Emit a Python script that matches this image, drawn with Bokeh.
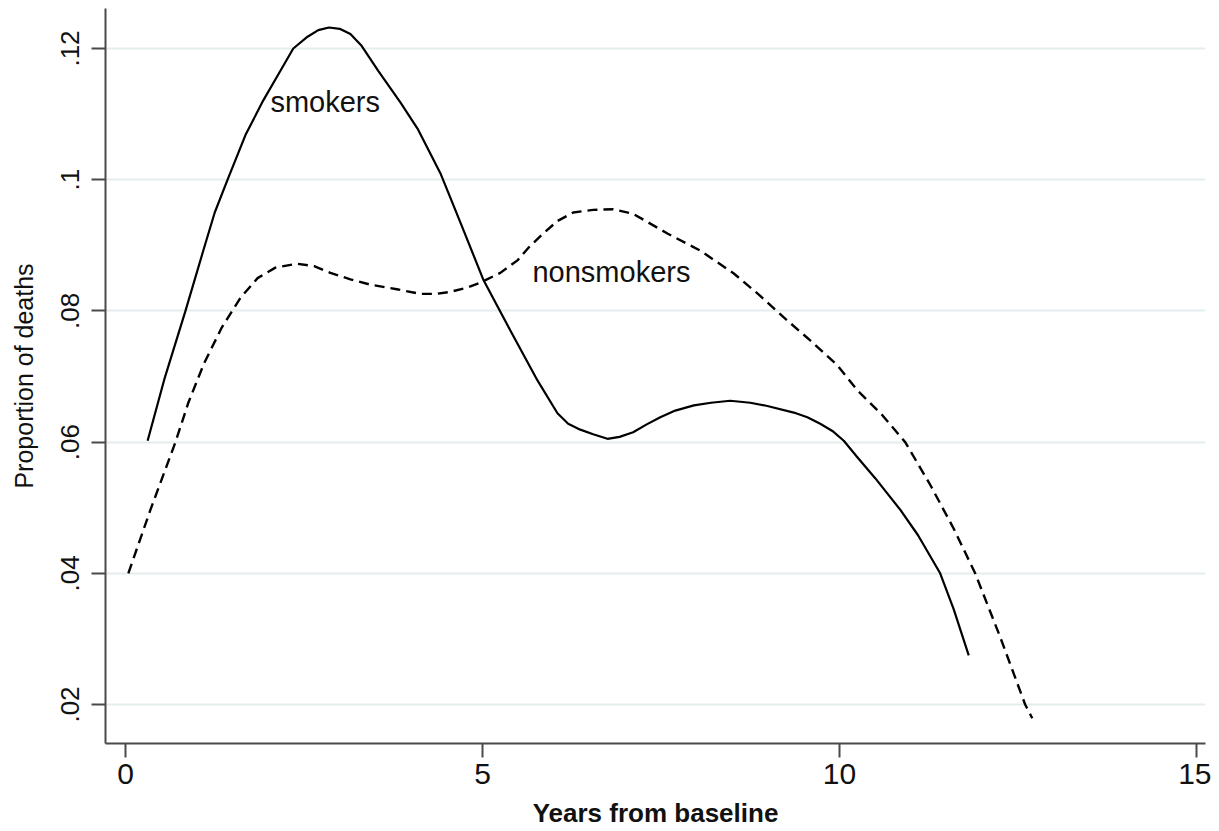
from bokeh.plotting import figure
from bokeh.models import FixedTicker, Range1d, Label
from bokeh.embed import file_html
from bokeh.resources import INLINE

# ---- data ----
smokers_x = [0.31, 0.55, 0.84, 1.09, 1.25, 1.43, 1.68, 1.93, 2.17, 2.35, 2.55, 2.70, 2.85,
             3.00, 3.15, 3.30, 3.54, 3.85, 4.09, 4.41, 4.69, 5.01, 5.39, 5.77, 6.05, 6.20,
             6.37, 6.55, 6.75, 6.92, 7.11, 7.30, 7.49, 7.70, 7.96, 8.20, 8.47, 8.75, 8.99,
             9.36, 9.55, 9.73, 9.90, 10.06, 10.25, 10.50, 10.85, 11.10, 11.41, 11.60, 11.81]
smokers_y = [0.0602, 0.0698, 0.0800, 0.0892, 0.0950, 0.1000, 0.1068, 0.1121, 0.1166, 0.1200,
             0.1218, 0.1228, 0.1232, 0.1230, 0.1222, 0.1205, 0.1166, 0.1118, 0.1078, 0.1010,
             0.0935, 0.0848, 0.0770, 0.0694, 0.0644, 0.0628, 0.0619, 0.0612, 0.0605, 0.0608,
             0.0615, 0.0627, 0.0638, 0.0648, 0.0656, 0.0660, 0.0663, 0.0660, 0.0655, 0.0645,
             0.0638, 0.0628, 0.0617, 0.0602, 0.0577, 0.0545, 0.0497, 0.0458, 0.0400, 0.0345,
             0.0275]

nonsmokers_x = [0.04, 0.35, 0.70, 0.88, 1.10, 1.35, 1.61, 1.85, 2.10, 2.40, 2.65, 2.87, 3.15,
                3.43, 3.80, 4.13, 4.35, 4.55, 4.80, 4.97, 5.25, 5.49, 5.65, 5.85, 6.05, 6.27,
                6.55, 6.83, 7.11, 7.35, 7.59, 8.05, 8.52, 8.89, 9.22, 9.59, 9.97, 10.25, 10.60,
                10.92, 11.27, 11.60, 11.90, 12.25, 12.60, 12.70]
nonsmokers_y = [0.0400, 0.0497, 0.0600, 0.0660, 0.0720, 0.0775, 0.0820, 0.0850, 0.0866, 0.0872,
                0.0868, 0.0858, 0.0848, 0.0840, 0.0833, 0.0826, 0.0826, 0.0829, 0.0836, 0.0843,
                0.0858, 0.0877, 0.0897, 0.0918, 0.0937, 0.0950, 0.0954, 0.0955, 0.0948, 0.0933,
                0.0918, 0.0892, 0.0857, 0.0823, 0.0790, 0.0755, 0.0717, 0.0679, 0.0641, 0.0600,
                0.0535, 0.0468, 0.0400, 0.0303, 0.0200, 0.0179]

x_ticks = [0, 5, 10, 15]
y_ticks = [0.02, 0.04, 0.06, 0.08, 0.10, 0.12]
y_tick_labels = [".02", ".04", ".06", ".08", ".1", ".12"]

series_labels = ["smokers", "nonsmokers"]
label_pos_x = [2.03, 5.70]
label_pos_y = [0.1119, 0.0860]

FONT = "Liberation Sans"

p = figure(width=1211, height=831, output_backend="svg", toolbar_location=None,
           x_range=Range1d(-0.28, 15.126), y_range=Range1d(0.014055, 0.126098),
           min_border_left=105, min_border_right=6, min_border_top=8, min_border_bottom=88)
p.outline_line_color = None
p.background_fill_color = "white"
p.border_fill_color = "white"

# grid
p.xgrid.grid_line_color = None
p.ygrid.grid_line_color = "#e4eded"
p.ygrid.grid_line_width = 2
p.ygrid.ticker = FixedTicker(ticks=y_ticks)

# x axis
xa = p.xaxis[0]
xa.ticker = FixedTicker(ticks=x_ticks)
xa.axis_label = "Years from baseline"
xa.axis_label_text_font = FONT
xa.axis_label_text_font_style = "bold"
xa.axis_label_text_font_size = "26px"
xa.axis_label_text_color = "#111111"
xa.axis_label_standoff = 11
xa.major_label_text_font = FONT
xa.major_label_text_font_size = "30px"
xa.major_label_text_color = "#111111"
xa.major_label_standoff = 6
xa.major_tick_out = 14
xa.major_tick_in = 0
xa.minor_tick_out = 0
xa.minor_tick_in = 0
xa.axis_line_color = "#4a4a4a"
xa.axis_line_width = 2
xa.major_tick_line_color = "#4a4a4a"
xa.major_tick_line_width = 2

# y axis
ya = p.yaxis[0]
ya.ticker = FixedTicker(ticks=y_ticks)
ya.major_label_overrides = {t: s for t, s in zip(y_ticks, y_tick_labels)}
ya.major_label_orientation = "vertical"
ya.axis_label = "Proportion of deaths"
ya.axis_label_text_font = FONT
ya.axis_label_text_font_style = "normal"
ya.axis_label_text_font_size = "25px"
ya.axis_label_text_color = "#111111"
ya.axis_label_standoff = 21
ya.major_label_text_font = FONT
ya.major_label_text_font_size = "26px"
ya.major_label_text_color = "#111111"
ya.major_label_standoff = 12
ya.major_tick_out = 14
ya.major_tick_in = 0
ya.minor_tick_out = 0
ya.minor_tick_in = 0
ya.axis_line_color = "#4a4a4a"
ya.axis_line_width = 2
ya.major_tick_line_color = "#4a4a4a"
ya.major_tick_line_width = 2

# curves
p.line(smokers_x, smokers_y, line_color="black", line_width=2.2, line_join="round")
p.line(nonsmokers_x, nonsmokers_y, line_color="black", line_width=2.4, line_dash="10 6",
       line_join="round")

# labels
for txt, lx, ly in zip(series_labels, label_pos_x, label_pos_y):
    p.add_layout(Label(x=lx, y=ly, text=txt, text_font=FONT, text_font_size="29px",
                       text_baseline="middle", text_align="left", text_color="#111111"))

open("out.html", "w").write(file_html(p, INLINE))
